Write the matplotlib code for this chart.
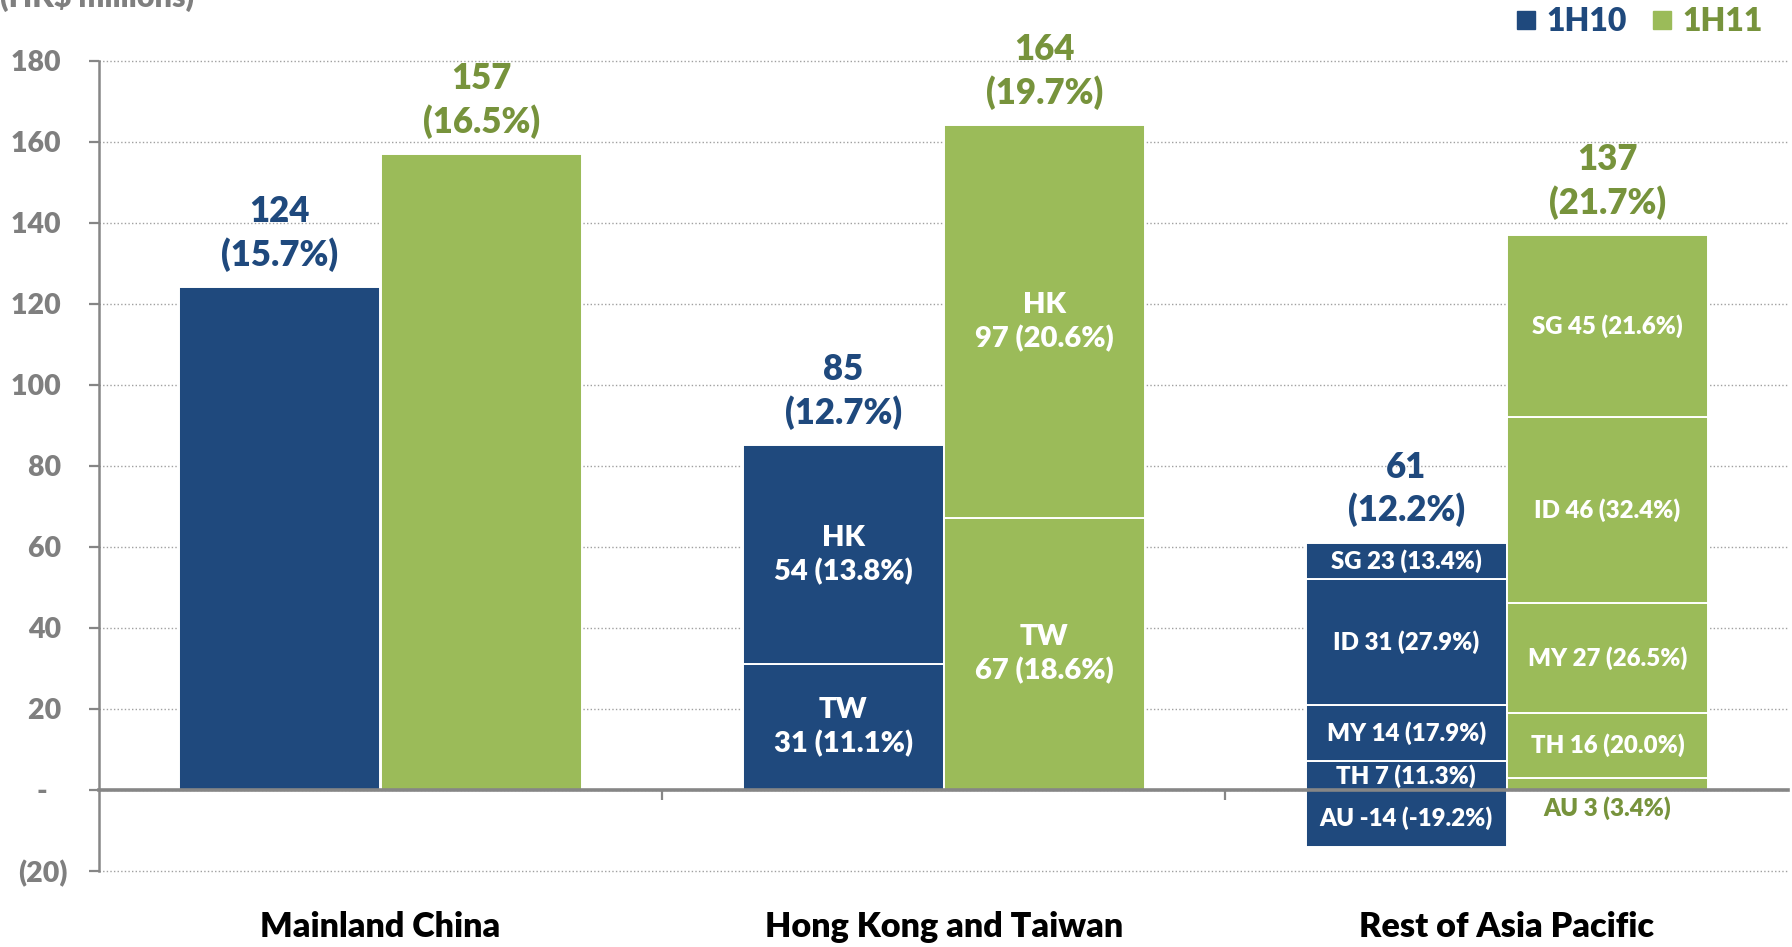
import matplotlib
matplotlib.use("Agg")
import matplotlib.pyplot as plt
from matplotlib.lines import Line2D
import matplotlib.transforms as mtransforms

# ---------------- data ----------------
categories = ["Mainland China", "Hong Kong and Taiwan", "Rest of Asia Pacific"]
series_names = ["1H10", "1H11"]

totals_1h10 = [124, 85, 61]
growth_1h10 = ["15.7%", "12.7%", "12.2%"]
totals_1h11 = [157, 164, 137]
growth_1h11 = ["16.5%", "19.7%", "21.7%"]

hktw_markets = ["TW", "HK"]
hktw_1h10 = [31, 54]
hktw_1h10_pct = ["11.1%", "13.8%"]
hktw_1h11 = [67, 97]
hktw_1h11_pct = ["18.6%", "20.6%"]

rap_markets = ["AU", "TH", "MY", "ID", "SG"]
rap_1h10 = [-14, 7, 14, 31, 23]
rap_1h10_pct = ["-19.2%", "11.3%", "17.9%", "27.9%", "13.4%"]
rap_1h11 = [3, 16, 27, 46, 45]
rap_1h11_pct = ["3.4%", "20.0%", "26.5%", "32.4%", "21.6%"]

yticks = [-20, 0, 20, 40, 60, 80, 100, 120, 140, 160, 180]
ytick_labels = ["(20)", "-   ", "20 ", "40 ", "60 ", "80 ", "100 ", "120 ", "140 ", "160 ", "180 "]

# ---------------- style ----------------
plt.rcParams['font.family'] = ['Lato', 'DejaVu Sans']
plt.rcParams['font.weight'] = 'heavy'

W = 'heavy'
BLUE = '#1F497D'
GREEN = '#9BBB59'
GREEN_TXT = '#77933C'
AXIS_GRAY = '#868686'
TICK_GRAY = '#7F7F7F'
colors = [BLUE, GREEN]
text_colors = [BLUE, GREEN_TXT]

fig = plt.figure(figsize=(17.92, 9.47), dpi=100)
ax = fig.add_axes([0.0552, 0.0804, 0.9428, 0.8556])
ax.set_xlim(-0.5, 2.5)
ax.set_ylim(-20, 180)

WIDTH = 0.357
OFFS = [-0.1786, 0.1786]
EDGE = dict(edgecolor='white', linewidth=1.4)


def stacked(x, values, pcts, markets, total, color, two_line, small_fs):
    """Positive segments stacked upward (top segment ends at the total),
    negative segments downward."""
    neg_sum = sum(v for v in values if v < 0)
    pos_idx = [i for i, v in enumerate(values) if v >= 0]
    bottom = 0
    for i, (v, p, m) in enumerate(zip(values, pcts, markets)):
        if v < 0:
            b, h = 0, v
        else:
            h = v + (neg_sum if i == pos_idx[-1] else 0)
            b = bottom
            bottom += h
        ax.bar(x, h, bottom=b, width=WIDTH, color=color, zorder=2, **EDGE)
        label = f"{m}\n{v} ({p})" if two_line else f"{m} {v} ({p})"
        if abs(h) < 4:
            ax.annotate(label, xy=(x, 0), xytext=(0, -5), textcoords='offset points',
                        ha='center', va='top', fontsize=small_fs, color=GREEN_TXT,
                        fontweight=W, zorder=5)
        else:
            ax.text(x, b + h / 2, label, ha='center', va='center', fontsize=small_fs,
                    color='white', fontweight=W, linespacing=1.33, zorder=5)


# Mainland China
for s, tot in enumerate([totals_1h10[0], totals_1h11[0]]):
    ax.bar(0 + OFFS[s], tot, width=WIDTH, color=colors[s], zorder=2, **EDGE)

# Hong Kong and Taiwan
stacked(1 + OFFS[0], hktw_1h10, hktw_1h10_pct, hktw_markets, totals_1h10[1], BLUE, True, 21)
stacked(1 + OFFS[1], hktw_1h11, hktw_1h11_pct, hktw_markets, totals_1h11[1], GREEN, True, 21)

# Rest of Asia Pacific
stacked(2 + OFFS[0], rap_1h10, rap_1h10_pct, rap_markets, totals_1h10[2], BLUE, False, 17.3)
stacked(2 + OFFS[1], rap_1h11, rap_1h11_pct, rap_markets, totals_1h11[2], GREEN, False, 17.3)

# total labels
for s, (tots, grs) in enumerate([(totals_1h10, growth_1h10), (totals_1h11, growth_1h11)]):
    for i, (t, g) in enumerate(zip(tots, grs)):
        ax.annotate(f"{t}\n({g})", xy=(i + OFFS[s], t), xytext=(0, 11),
                    textcoords='offset points', ha='center', va='bottom',
                    fontsize=25, color=text_colors[s], fontweight=W,
                    linespacing=1.32, zorder=5)

# axes styling
ax.set_yticks(yticks)
ax.set_yticklabels(ytick_labels)
ax.yaxis.grid(True, linestyle=(0, (1, 1.6)), color='#A0A0A0', linewidth=1.0)
ax.set_axisbelow(True)
for gl in ax.get_ygridlines():
    gl.set_clip_on(False)

ax.spines['top'].set_visible(False)
ax.spines['right'].set_visible(False)
ax.spines['left'].set_color(AXIS_GRAY)
ax.spines['left'].set_linewidth(1.8)
ax.spines['bottom'].set_position(('data', 0))
ax.spines['bottom'].set_color(AXIS_GRAY)
ax.spines['bottom'].set_linewidth(2.6)
ax.spines['bottom'].set_zorder(4)

ax.tick_params(axis='y', direction='out', length=7, width=1.6, color=AXIS_GRAY,
               labelcolor=TICK_GRAY, labelsize=20.5, pad=15.5)
ax.set_xticks([0.5, 1.5])
ax.set_xticklabels(["", ""])
ax.tick_params(axis='x', direction='out', length=7, width=1.6, color=AXIS_GRAY)
for lab in ax.get_yticklabels():
    lab.set_fontweight(W)

trans = mtransforms.blended_transform_factory(ax.transData, fig.transFigure)
for i, c in enumerate(categories):
    ax.text(i, 20 / 947, c, transform=trans, ha='center', va='center',
            fontsize=24.6, color='black', fontweight=W)

fig.text(0.0, 1 - 7 / 947, "(HK$ millions)", ha='left', va='baseline',
         fontsize=22, color=TICK_GRAY, fontweight=W)

handles = [Line2D([], [], marker='s', linestyle='', color=c, markersize=13) for c in colors]
fig.legend(handles, series_names, loc='upper right', bbox_to_anchor=(1.0, 1.023),
           ncol=2, frameon=False, handletextpad=0.2, columnspacing=0.64,
           handlelength=0.9, labelcolor=text_colors, prop={'weight': W, 'size': 23})

fig.savefig("out.png", dpi=100)
